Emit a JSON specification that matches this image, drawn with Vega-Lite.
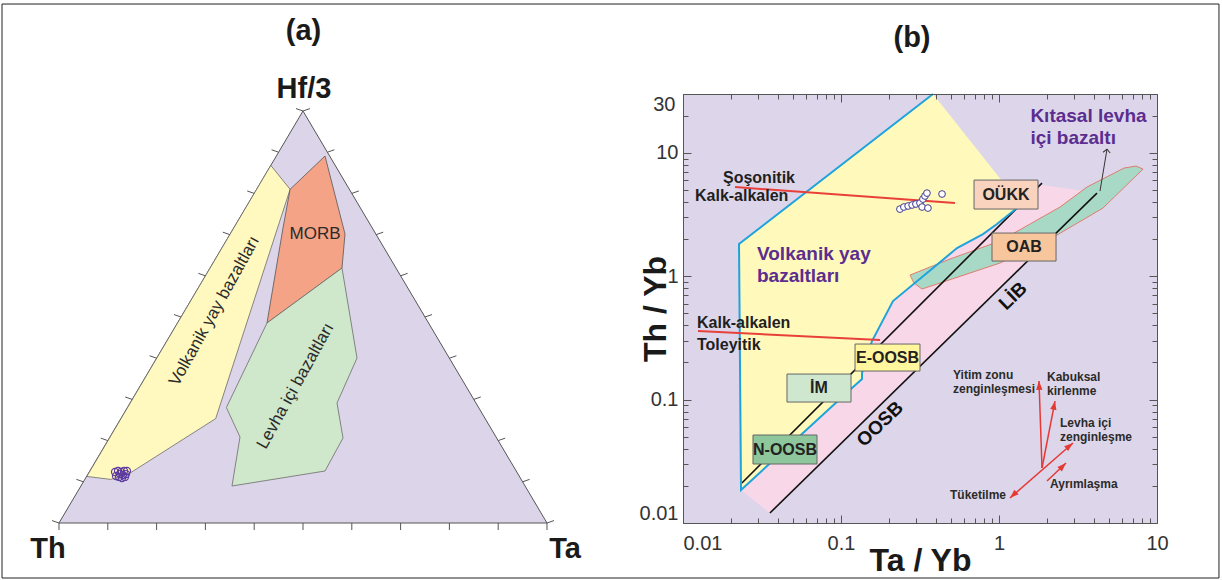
{
  "$schema": "https://vega.github.io/schema/vega-lite/v6.json",
  "background": "white",
  "padding": {"left": 0, "top": 3, "right": 0, "bottom": 0},
  "bounds": "flush",
  "spacing": 63,
  "config": {
    "view": {"stroke": null},
    "font": "Liberation Sans",
    "axis": {"labelFont": "Liberation Sans", "titleFont": "Liberation Sans"}
  },
  "datasets": {
    "frameA": [{"x": -0.1168, "x2": 2.377, "y": -0.1335, "y2": 1.2597}],
    "polyA": [
      {"poly": "T", "i": 0, "x": 0, "y": 0},
      {"poly": "T", "i": 1, "x": 1, "y": 0},
      {"poly": "T", "i": 2, "x": 0.5, "y": 1},
      {"poly": "T", "i": 3, "x": 0, "y": 0},
      {"poly": "Y", "i": 0, "x": 0.057, "y": 0.113},
      {"poly": "Y", "i": 1, "x": 0.434, "y": 0.868},
      {"poly": "Y", "i": 2, "x": 0.4736, "y": 0.81},
      {"poly": "Y", "i": 3, "x": 0.3211, "y": 0.2534},
      {"poly": "Y", "i": 4, "x": 0.1467, "y": 0.1221},
      {"poly": "Y", "i": 5, "x": 0.1061, "y": 0.1058},
      {"poly": "Y", "i": 6, "x": 0.057, "y": 0.113},
      {"poly": "M", "i": 0, "x": 0.4736, "y": 0.81},
      {"poly": "M", "i": 1, "x": 0.5451, "y": 0.8908},
      {"poly": "M", "i": 2, "x": 0.5861, "y": 0.7015},
      {"poly": "M", "i": 3, "x": 0.5799, "y": 0.6189},
      {"poly": "M", "i": 4, "x": 0.4262, "y": 0.4854},
      {"poly": "M", "i": 5, "x": 0.459, "y": 0.716},
      {"poly": "M", "i": 6, "x": 0.4736, "y": 0.81},
      {"poly": "G", "i": 0, "x": 0.4262, "y": 0.4854},
      {"poly": "G", "i": 1, "x": 0.5799, "y": 0.6189},
      {"poly": "G", "i": 2, "x": 0.6107, "y": 0.4005},
      {"poly": "G", "i": 3, "x": 0.5697, "y": 0.2913},
      {"poly": "G", "i": 4, "x": 0.582, "y": 0.2063},
      {"poly": "G", "i": 5, "x": 0.5451, "y": 0.1262},
      {"poly": "G", "i": 6, "x": 0.3545, "y": 0.0898},
      {"poly": "G", "i": 7, "x": 0.3709, "y": 0.2087},
      {"poly": "G", "i": 8, "x": 0.343, "y": 0.2803},
      {"poly": "G", "i": 9, "x": 0.4262, "y": 0.4854}
    ],
    "ticksA": [
      {"edge": "base", "x": 0, "y": 0}, {"edge": "base", "x": 0.1, "y": 0}, {"edge": "base", "x": 0.2, "y": 0},
      {"edge": "base", "x": 0.3, "y": 0}, {"edge": "base", "x": 0.4, "y": 0}, {"edge": "base", "x": 0.5, "y": 0},
      {"edge": "base", "x": 0.6, "y": 0}, {"edge": "base", "x": 0.7, "y": 0}, {"edge": "base", "x": 0.8, "y": 0},
      {"edge": "base", "x": 0.9, "y": 0}, {"edge": "base", "x": 1, "y": 0},
      {"edge": "left", "x": 0, "y": 0}, {"edge": "left", "x": 0.05, "y": 0.1}, {"edge": "left", "x": 0.1, "y": 0.2},
      {"edge": "left", "x": 0.15, "y": 0.3}, {"edge": "left", "x": 0.2, "y": 0.4}, {"edge": "left", "x": 0.25, "y": 0.5},
      {"edge": "left", "x": 0.3, "y": 0.6}, {"edge": "left", "x": 0.35, "y": 0.7}, {"edge": "left", "x": 0.4, "y": 0.8},
      {"edge": "left", "x": 0.45, "y": 0.9}, {"edge": "left", "x": 0.5, "y": 1},
      {"edge": "right", "x": 1, "y": 0}, {"edge": "right", "x": 0.95, "y": 0.1}, {"edge": "right", "x": 0.9, "y": 0.2},
      {"edge": "right", "x": 0.85, "y": 0.3}, {"edge": "right", "x": 0.8, "y": 0.4}, {"edge": "right", "x": 0.75, "y": 0.5},
      {"edge": "right", "x": 0.7, "y": 0.6}, {"edge": "right", "x": 0.65, "y": 0.7}, {"edge": "right", "x": 0.6, "y": 0.8},
      {"edge": "right", "x": 0.55, "y": 0.9}, {"edge": "right", "x": 0.5, "y": 1}
    ],
    "ptsA": [
      {"x": 0.1148, "y": 0.1238}, {"x": 0.1209, "y": 0.1262}, {"x": 0.127, "y": 0.1238},
      {"x": 0.1332, "y": 0.1262}, {"x": 0.1393, "y": 0.1262}, {"x": 0.1168, "y": 0.1141},
      {"x": 0.123, "y": 0.1117}, {"x": 0.1291, "y": 0.1092}, {"x": 0.1352, "y": 0.1117},
      {"x": 0.125, "y": 0.1189}, {"x": 0.1311, "y": 0.1165}, {"x": 0.1373, "y": 0.1189}
    ],
    "textA": [
      {"g": "big", "text": "Th", "x": -0.0225, "y": -0.0619},
      {"g": "big", "text": "Ta", "x": 1.0369, "y": -0.0631},
      {"g": "big", "text": "Hf/3", "x": 0.502, "y": 1.0534},
      {"g": "big", "text": "(a)", "x": 0.501, "y": 1.1942},
      {"g": "rot", "text": "Volkanik yay bazaltları", "x": 0.3186, "y": 0.5146},
      {"g": "rot", "text": "Levha içi bazaltları", "x": 0.4846, "y": 0.3325},
      {"g": "morb", "text": "MORB", "x": 0.5246, "y": 0.7015}
    ],
    "polyB": [
      {"poly": "pink", "i": 0, "x": 0.02329, "y": 0.01851},
      {"poly": "pink", "i": 1, "x": 0.0355, "y": 0.01205},
      {"poly": "pink", "i": 2, "x": 4.17, "y": 4.72},
      {"poly": "pink", "i": 3, "x": 1.0146, "y": 6.134},
      {"poly": "pink", "i": 4, "x": 0.2134, "y": 0.6295},
      {"poly": "pink", "i": 5, "x": 0.02329, "y": 0.01851},
      {"poly": "yellow", "i": 0, "x": 0.02329, "y": 0.01851},
      {"poly": "yellow", "i": 1, "x": 0.02262, "y": 1.824},
      {"poly": "yellow", "i": 2, "x": 0.3823, "y": 30},
      {"poly": "yellow", "i": 3, "x": 1.174, "y": 4.9},
      {"poly": "yellow", "i": 4, "x": 1.3, "y": 3.57},
      {"poly": "yellow", "i": 5, "x": 0.9712, "y": 2.649},
      {"poly": "yellow", "i": 6, "x": 0.7922, "y": 2.198},
      {"poly": "yellow", "i": 7, "x": 0.5423, "y": 1.692},
      {"poly": "yellow", "i": 8, "x": 0.3823, "y": 1.165},
      {"poly": "yellow", "i": 9, "x": 0.2134, "y": 0.6295},
      {"poly": "yellow", "i": 10, "x": 0.1571, "y": 0.2985},
      {"poly": "yellow", "i": 11, "x": 0.1358, "y": 0.1643},
      {"poly": "yellow", "i": 12, "x": 0.1358, "y": 0.1469},
      {"poly": "yellow", "i": 13, "x": 0.1174, "y": 0.1242},
      {"poly": "yellow", "i": 14, "x": 0.02329, "y": 0.01851},
      {"poly": "teal", "i": 0, "x": 0.2733, "y": 1.0226},
      {"poly": "teal", "i": 1, "x": 0.2897, "y": 0.881},
      {"poly": "teal", "i": 2, "x": 0.3256, "y": 0.7876},
      {"poly": "teal", "i": 3, "x": 1.0146, "y": 1.2794},
      {"poly": "teal", "i": 4, "x": 2.329, "y": 2.158},
      {"poly": "teal", "i": 5, "x": 4.552, "y": 3.57},
      {"poly": "teal", "i": 6, "x": 8.155, "y": 7.391},
      {"poly": "teal", "i": 7, "x": 7.364, "y": 7.817},
      {"poly": "teal", "i": 8, "x": 6.182, "y": 7.53},
      {"poly": "teal", "i": 9, "x": 3.606, "y": 5.284},
      {"poly": "teal", "i": 10, "x": 2.433, "y": 3.638},
      {"poly": "teal", "i": 11, "x": 1.0146, "y": 1.929},
      {"poly": "teal", "i": 12, "x": 0.4897, "y": 1.379},
      {"poly": "teal", "i": 13, "x": 0.2733, "y": 1.0226},
      {"poly": "blue", "i": 0, "x": 0.3823, "y": 30},
      {"poly": "blue", "i": 1, "x": 0.02262, "y": 1.824},
      {"poly": "blue", "i": 2, "x": 0.02329, "y": 0.01851},
      {"poly": "blue", "i": 3, "x": 0.1174, "y": 0.1242},
      {"poly": "blue", "i": 4, "x": 0.1358, "y": 0.1469},
      {"poly": "blue", "i": 5, "x": 0.1358, "y": 0.1643},
      {"poly": "blue", "i": 6, "x": 0.1571, "y": 0.2985},
      {"poly": "blue", "i": 7, "x": 0.2134, "y": 0.6295},
      {"poly": "blue", "i": 8, "x": 0.3823, "y": 1.165},
      {"poly": "blue", "i": 9, "x": 0.5423, "y": 1.692},
      {"poly": "blue", "i": 10, "x": 0.7922, "y": 2.198},
      {"poly": "blue", "i": 11, "x": 0.9712, "y": 2.649},
      {"poly": "blue", "i": 12, "x": 1.3, "y": 3.57},
      {"poly": "blue", "i": 13, "x": 1.461, "y": 4.067}
    ],
    "segB": [
      {"kind": "black", "x": 0.0236, "y": 0.0211, "x2": 1.87, "y2": 5.69},
      {"kind": "black", "x": 0.0355, "y": 0.01205, "x2": 4.17, "y2": 4.72},
      {"kind": "red", "x": 0.02134, "y": 5.284, "x2": 0.5267, "y2": 3.919},
      {"kind": "red", "x": 0.01244, "y": 0.3597, "x2": 0.1765, "y2": 0.3041},
      {"kind": "redarrow", "x": 1.8715, "y": 0.02791, "x2": 1.791, "y2": 0.1415},
      {"kind": "redarrow", "x": 1.8715, "y": 0.02791, "x2": 2.262, "y2": 0.0974},
      {"kind": "redarrow", "x": 1.174, "y": 0.01595, "x2": 2.941, "y2": 0.04449},
      {"kind": "redarrow", "x": 2.013, "y": 0.0219, "x2": 2.656, "y2": 0.03064},
      {"kind": "blackarrow", "x": 4.357, "y": 4.9, "x2": 4.826, "y2": 10.73}
    ],
    "headsB": [
      {"name": "yitim", "x": 1.791, "y": 0.1415},
      {"name": "kabuk", "x": 2.262, "y": 0.0974},
      {"name": "levha", "x": 2.941, "y": 0.04449},
      {"name": "tuket", "x": 1.174, "y": 0.01595},
      {"name": "ayrim", "x": 2.656, "y": 0.03064},
      {"name": "kit", "x": 4.826, "y": 10.73}
    ],
    "boxB": [
      {"name": "OÜKK", "x": 0.6949, "x2": 1.765, "y": 3.505, "y2": 6.019},
      {"name": "OAB", "x": 0.9031, "x2": 2.296, "y": 1.328, "y2": 2.239},
      {"name": "E-OOSB", "x": 0.1227, "x2": 0.3162, "y": 0.1705, "y2": 0.2822},
      {"name": "İM", "x": 0.04551, "x2": 0.1157, "y": 0.0956, "y2": 0.1612},
      {"name": "N-OOSB", "x": 0.02773, "x2": 0.07049, "y": 0.03007, "y2": 0.05166}
    ],
    "ptsB": [
      {"x": 0.236, "y": 3.5}, {"x": 0.25, "y": 3.64}, {"x": 0.266, "y": 3.71},
      {"x": 0.282, "y": 3.78}, {"x": 0.298, "y": 3.85}, {"x": 0.316, "y": 3.92},
      {"x": 0.33, "y": 4.22}, {"x": 0.34, "y": 4.47}, {"x": 0.35, "y": 4.72},
      {"x": 0.326, "y": 3.64}, {"x": 0.355, "y": 3.57}, {"x": 0.436, "y": 4.64}
    ],
    "textB": [
      {"g": "kit", "text": "Kıtasal levha", "x": 1.58, "y": 19.87},
      {"g": "kit", "text": "içi bazaltı", "x": 1.58, "y": 13.18},
      {"g": "vol", "text": "Volkanik yay", "x": 0.0294, "y": 1.513},
      {"g": "vol", "text": "bazaltları", "x": 0.0294, "y": 1.004},
      {"g": "bnd", "text": "Şoşonitik", "x": 0.01791, "y": 6.249},
      {"g": "bnd", "text": "Kalk-alkalen", "x": 0.01191, "y": 4.466},
      {"g": "bnd", "text": "Kalk-alkalen", "x": 0.01226, "y": 0.4176},
      {"g": "bnd", "text": "Toleyitik", "x": 0.01226, "y": 0.277},
      {"g": "rot", "text": "LİB", "x": 1.227, "y": 0.6911},
      {"g": "rot", "text": "OOSB", "x": 0.1765, "y": 0.06343},
      {"g": "ann", "text": "Yitim zonu", "x": 0.5117, "y": 0.1583},
      {"g": "ann", "text": "zenginleşmesi", "x": 0.5117, "y": 0.1219},
      {"g": "ann", "text": "Kabuksal", "x": 2.013, "y": 0.1525},
      {"g": "ann", "text": "kirlenme", "x": 2.013, "y": 0.1174},
      {"g": "ann", "text": "Levha içi", "x": 2.433, "y": 0.06462},
      {"g": "ann", "text": "zenginleşme", "x": 2.433, "y": 0.04977},
      {"g": "ann", "text": "Ayrımlaşma", "x": 2.103, "y": 0.0207},
      {"g": "ann", "text": "Tüketilme", "x": 0.4897, "y": 0.01687},
      {"g": "box", "text": "OÜKK", "x": 1.107, "y": 4.593},
      {"g": "box", "text": "OAB", "x": 1.44, "y": 1.724},
      {"g": "box", "text": "E-OOSB", "x": 0.197, "y": 0.2194},
      {"g": "box", "text": "İM", "x": 0.07258, "y": 0.1242},
      {"g": "box", "text": "N-OOSB", "x": 0.04421, "y": 0.03941},
      {"g": "title", "text": "(b)", "x": 0.2815, "y": 85.2}
    ]
  },
  "hconcat": [
    {
      "width": 620,
      "height": 429,
      "encoding": {
        "x": {"field": "x", "type": "quantitative", "scale": {"domain": [-0.1209, 1.1496], "nice": false, "zero": false}, "axis": null},
        "y": {"field": "y", "type": "quantitative", "scale": {"domain": [0, 1.0413], "nice": false, "zero": false}, "axis": null}
      },
      "layer": [
        {"data": {"name": "frameA"},
         "mark": {"type": "rect", "filled": false, "fill": "transparent", "stroke": "#222222", "strokeWidth": 1, "opacity": 1},
         "encoding": {"x2": {"field": "x2"}, "y2": {"field": "y2"}}},
        {"data": {"name": "polyA"}, "transform": [{"filter": "datum.poly === 'T'"}],
         "mark": {"type": "line", "fill": "#DCD5E9", "stroke": "#555555", "strokeWidth": 1},
         "encoding": {"order": {"field": "i", "type": "quantitative"}}},
        {"data": {"name": "polyA"}, "transform": [{"filter": "datum.poly === 'Y'"}],
         "mark": {"type": "line", "fill": "#FFF8BF", "stroke": "#6b6b6b", "strokeWidth": 0.8},
         "encoding": {"order": {"field": "i", "type": "quantitative"}}},
        {"data": {"name": "polyA"}, "transform": [{"filter": "datum.poly === 'M'"}],
         "mark": {"type": "line", "fill": "#F5A386", "stroke": "#555555", "strokeWidth": 0.8},
         "encoding": {"order": {"field": "i", "type": "quantitative"}}},
        {"data": {"name": "polyA"}, "transform": [{"filter": "datum.poly === 'G'"}],
         "mark": {"type": "line", "fill": "#CFE7CB", "stroke": "#6b6b6b", "strokeWidth": 0.8},
         "encoding": {"order": {"field": "i", "type": "quantitative"}}},
        {"data": {"name": "ticksA"},
         "mark": {"type": "point", "filled": false, "size": 196, "strokeWidth": 1, "color": "#555555", "opacity": 1},
         "encoding": {"shape": {"field": "edge", "type": "nominal", "scale": {"domain": ["base", "left", "right"], "range": ["M0,0L0,1", "M0,0L-1,-0.35", "M0,0L1,-0.35"]}, "legend": null}}},
        {"data": {"name": "ptsA"},
         "mark": {"type": "point", "shape": "circle", "filled": false, "size": 50, "strokeWidth": 1.2, "color": "#5E3C9F", "opacity": 1}},
        {"data": {"name": "textA"}, "transform": [{"filter": "datum.g === 'big'"}],
         "mark": {"type": "text", "fontSize": 29, "fontWeight": "bold", "color": "#1a1a1a", "align": "center", "baseline": "middle"},
         "encoding": {"text": {"field": "text"}}},
        {"data": {"name": "textA"}, "transform": [{"filter": "datum.g === 'rot'"}],
         "mark": {"type": "text", "fontSize": 17, "color": "#2a2a2a", "align": "center", "baseline": "middle", "angle": 299},
         "encoding": {"text": {"field": "text"}}},
        {"data": {"name": "textA"}, "transform": [{"filter": "datum.g === 'morb'"}],
         "mark": {"type": "text", "fontSize": 17, "color": "#2a2a2a", "align": "center", "baseline": "middle"},
         "encoding": {"text": {"field": "text"}}}
      ]
    },
    {
      "width": 474,
      "height": 429,
      "view": {"fill": "#DDD6EA", "stroke": null},
      "resolve": {"axis": {"x": "independent", "y": "independent"}},
      "encoding": {
        "x": {"field": "x", "type": "quantitative", "scale": {"type": "log", "domain": [0.01, 10], "nice": false}, "axis": null},
        "y": {"field": "y", "type": "quantitative", "scale": {"type": "log", "domain": [0.01, 30], "nice": false}, "axis": null}
      },
      "layer": [
        {"data": {"name": "polyB"}, "transform": [{"filter": "datum.poly === 'pink'"}],
         "mark": {"type": "line", "fill": "#F8D8E8", "strokeOpacity": 0},
         "encoding": {
           "order": {"field": "i", "type": "quantitative"},
           "x": {"field": "x", "type": "quantitative", "scale": {"type": "log", "domain": [0.01, 10], "nice": false},
             "axis": {"orient": "bottom", "values": [0.01,0.02,0.03,0.04,0.05,0.06,0.07,0.08,0.09,0.1,0.2,0.3,0.4,0.5,0.6,0.7,0.8,0.9,1,2,3,4,5,6,7,8,9,10],
               "format": "~g", "labelExpr": "(datum.value == 0.01 || datum.value == 0.1 || datum.value == 1 || datum.value == 10) ? datum.label : ''",
               "labelOverlap": false, "labelBound": false, "labelFlush": false,
               "labelAlign": {"condition": {"test": "datum.value == 0.01", "value": "left"}, "value": "center"},
               "tickSize": {"condition": {"test": "datum.value == 0.01 || datum.value == 0.1 || datum.value == 1 || datum.value == 10", "value": -8}, "value": -5},
               "tickColor": "#555555", "tickWidth": 1, "domainColor": "#555555", "domainWidth": 1,
               "labelFontSize": 20, "labelColor": "#333333", "labelPadding": 18,
               "title": "Ta / Yb", "titleFontSize": 32, "titleFontWeight": "bold", "titleColor": "#1a1a1a", "titlePadding": -11,
               "grid": false, "zindex": 1}},
           "y": {"field": "y", "type": "quantitative", "scale": {"type": "log", "domain": [0.01, 30], "nice": false},
             "axis": {"orient": "left", "values": [0.01,0.02,0.03,0.04,0.05,0.06,0.07,0.08,0.09,0.1,0.2,0.3,0.4,0.5,0.6,0.7,0.8,0.9,1,2,3,4,5,6,7,8,9,10,20,30],
               "format": "~g", "labelExpr": "(datum.value == 0.01 || datum.value == 0.1 || datum.value == 1 || datum.value == 10 || datum.value == 30) ? datum.label : ''",
               "labelOverlap": false, "labelBound": false, "labelFlush": true,
               "tickSize": {"condition": {"test": "datum.value == 0.01 || datum.value == 0.1 || datum.value == 1 || datum.value == 10", "value": -8}, "value": -5},
               "tickColor": "#555555", "tickWidth": 1, "domainColor": "#555555", "domainWidth": 1,
               "labelFontSize": 20, "labelColor": "#333333", "labelPadding": 13,
               "title": "Th / Yb", "titleFontSize": 32, "titleFontWeight": "bold", "titleColor": "#1a1a1a", "titlePadding": -33,
               "grid": false, "zindex": 1}}
         }},
        {"data": {"name": "polyB"}, "transform": [{"filter": "datum.poly === 'yellow'"}],
         "mark": {"type": "line", "fill": "#FFF9BC", "strokeOpacity": 0},
         "encoding": {
           "order": {"field": "i", "type": "quantitative"},
           "x": {"field": "x", "type": "quantitative", "scale": {"type": "log", "domain": [0.01, 10], "nice": false},
             "axis": {"orient": "top", "values": [0.01,0.02,0.03,0.04,0.05,0.06,0.07,0.08,0.09,0.1,0.2,0.3,0.4,0.5,0.6,0.7,0.8,0.9,1,2,3,4,5,6,7,8,9,10],
               "labels": false, "title": null,
               "tickSize": {"condition": {"test": "datum.value == 0.01 || datum.value == 0.1 || datum.value == 1 || datum.value == 10", "value": -8}, "value": -5},
               "tickColor": "#555555", "tickWidth": 1, "domainColor": "#555555", "domainWidth": 1, "grid": false, "zindex": 1}},
           "y": {"field": "y", "type": "quantitative", "scale": {"type": "log", "domain": [0.01, 30], "nice": false},
             "axis": {"orient": "right", "values": [0.01,0.02,0.03,0.04,0.05,0.06,0.07,0.08,0.09,0.1,0.2,0.3,0.4,0.5,0.6,0.7,0.8,0.9,1,2,3,4,5,6,7,8,9,10,20,30],
               "labels": false, "title": null,
               "tickSize": {"condition": {"test": "datum.value == 0.01 || datum.value == 0.1 || datum.value == 1 || datum.value == 10", "value": -8}, "value": -5},
               "tickColor": "#555555", "tickWidth": 1, "domainColor": "#555555", "domainWidth": 1, "grid": false, "zindex": 1}}
         }},
        {"data": {"name": "polyB"}, "transform": [{"filter": "datum.poly === 'teal'"}],
         "mark": {"type": "line", "fill": "#A8D9C7", "stroke": "#E07C6F", "strokeWidth": 1},
         "encoding": {"order": {"field": "i", "type": "quantitative"}}},
        {"data": {"name": "segB"}, "transform": [{"filter": "datum.kind === 'black'"}],
         "mark": {"type": "rule", "color": "#111111", "strokeWidth": 1.6},
         "encoding": {"x2": {"field": "x2"}, "y2": {"field": "y2"}}},
        {"data": {"name": "polyB"}, "transform": [{"filter": "datum.poly === 'blue'"}],
         "mark": {"type": "line", "color": "#1FA3DC", "strokeWidth": 2},
         "encoding": {"order": {"field": "i", "type": "quantitative"}}},
        {"data": {"name": "segB"}, "transform": [{"filter": "datum.kind === 'red'"}],
         "mark": {"type": "rule", "color": "#E8403A", "strokeWidth": 2},
         "encoding": {"x2": {"field": "x2"}, "y2": {"field": "y2"}}},
        {"data": {"name": "boxB"},
         "mark": {"type": "rect", "stroke": "#666666", "strokeWidth": 1},
         "encoding": {"x2": {"field": "x2"}, "y2": {"field": "y2"},
           "fill": {"field": "name", "type": "nominal", "scale": {"domain": ["OÜKK", "OAB", "E-OOSB", "İM", "N-OOSB"], "range": ["#F9D3BE", "#F8C69C", "#FFF69E", "#CFE7CF", "#8DC79B"]}, "legend": null}}},
        {"data": {"name": "ptsB"},
         "mark": {"type": "point", "shape": "circle", "filled": true, "fill": "white", "stroke": "#403C8F", "strokeWidth": 1, "size": 45, "opacity": 1}},
        {"data": {"name": "segB"}, "transform": [{"filter": "datum.kind === 'redarrow'"}],
         "mark": {"type": "rule", "color": "#E53935", "strokeWidth": 1.5},
         "encoding": {"x2": {"field": "x2"}, "y2": {"field": "y2"}}},
        {"data": {"name": "segB"}, "transform": [{"filter": "datum.kind === 'blackarrow'"}],
         "mark": {"type": "rule", "color": "#333333", "strokeWidth": 1},
         "encoding": {"x2": {"field": "x2"}, "y2": {"field": "y2"}}},
        {"data": {"name": "headsB"}, "transform": [{"filter": "datum.name !== 'kit'"}],
         "mark": {"type": "point", "shape": "M0,0L-0.5,1.4L0.5,1.4Z", "filled": true, "color": "#E53935", "size": 160, "opacity": 1},
         "encoding": {"angle": {"field": "name", "type": "nominal", "scale": {"type": "ordinal", "domain": ["yitim", "kabuk", "levha", "tuket", "ayrim"], "range": [358, 11, 51, 227, 46]}, "legend": null}}},
        {"data": {"name": "headsB"}, "transform": [{"filter": "datum.name === 'kit'"}],
         "mark": {"type": "point", "shape": "M-1,1L0,0L1,1", "filled": false, "color": "#333333", "strokeWidth": 1, "size": 50, "opacity": 1, "angle": 6}},
        {"data": {"name": "textB"}, "transform": [{"filter": "datum.g === 'kit' || datum.g === 'vol'"}],
         "mark": {"type": "text", "fontSize": 19, "fontWeight": "bold", "color": "#5B2D8F", "align": "left", "baseline": "middle"},
         "encoding": {"text": {"field": "text"}}},
        {"data": {"name": "textB"}, "transform": [{"filter": "datum.g === 'bnd'"}],
         "mark": {"type": "text", "fontSize": 16, "fontWeight": "bold", "color": "#1f1f1f", "align": "left", "baseline": "middle"},
         "encoding": {"text": {"field": "text"}}},
        {"data": {"name": "textB"}, "transform": [{"filter": "datum.g === 'rot'"}],
         "mark": {"type": "text", "fontSize": 19, "fontWeight": "bold", "color": "#111111", "align": "center", "baseline": "middle", "angle": 316},
         "encoding": {"text": {"field": "text"}}},
        {"data": {"name": "textB"}, "transform": [{"filter": "datum.g === 'ann'"}],
         "mark": {"type": "text", "fontSize": 12, "fontWeight": "bold", "color": "#2b2b2b", "align": "left", "baseline": "middle"},
         "encoding": {"text": {"field": "text"}}},
        {"data": {"name": "textB"}, "transform": [{"filter": "datum.g === 'box'"}],
         "mark": {"type": "text", "fontSize": 16, "fontWeight": "bold", "color": "#222222", "align": "center", "baseline": "middle"},
         "encoding": {"text": {"field": "text"}}},
        {"data": {"name": "textB"}, "transform": [{"filter": "datum.g === 'title'"}],
         "mark": {"type": "text", "fontSize": 29, "fontWeight": "bold", "color": "#1a1a1a", "align": "center", "baseline": "middle"},
         "encoding": {"text": {"field": "text"}}}
      ]
    }
  ]
}
